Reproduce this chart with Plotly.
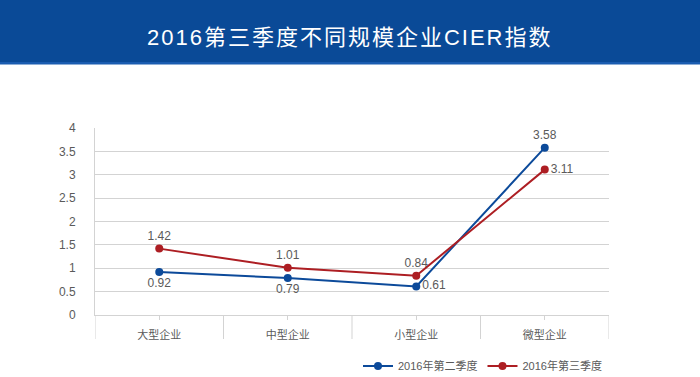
import plotly.graph_objects as go

categories = ["大型企业", "中型企业", "小型企业", "微型企业"]
q2_values = [0.92, 0.79, 0.61, 3.58]
q3_values = [1.42, 1.01, 0.84, 3.11]
q2_name = "2016年第二季度"
q3_name = "2016年第三季度"
title_text = "2016第三季度不同规模企业CIER指数"
y_ticks = [0, 0.5, 1, 1.5, 2, 2.5, 3, 3.5, 4]
y_ticktext = ["0", "0.5", "1", "1.5", "2", "2.5", "3", "3.5", "4"]

W, H = 700, 377
L, R, T, B = 95, 91, 128, 62
plot_h = H - T - B

def py(pix):
    # convert pixel y (from top) to paper coord
    return (H - B - pix) / plot_h

def px(pix):
    return (pix - L) / (W - L - R)

BLUE = "#0c4a9a"
RED = "#ad1e23"
GRID = "#d3d3d3"
TXT = "#5a5a5a"
FONT = "Liberation Sans, Noto Sans CJK SC, sans-serif"

fig = go.Figure()
fig.add_trace(go.Scatter(
    x=categories, y=q2_values, name=q2_name, mode="lines+markers+text",
    line=dict(color=BLUE, width=2), marker=dict(color=BLUE, size=8),
    text=[f"{v:.2f}" for v in q2_values],
    textposition=["bottom center", "bottom center", "middle right", "top center"],
    textfont=dict(color=TXT, size=12, family=FONT),
    cliponaxis=False,
))
fig.add_trace(go.Scatter(
    x=categories, y=q3_values, name=q3_name, mode="lines+markers+text",
    line=dict(color=RED, width=2), marker=dict(color=RED, size=8),
    text=[f"{v:.2f}" for v in q3_values],
    textposition=["top center", "top center", "top center", "middle right"],
    textfont=dict(color=TXT, size=12, family=FONT),
    cliponaxis=False,
))

shapes = []
# title band
shapes.append(dict(type="rect", xref="paper", yref="paper", x0=px(-2), x1=px(W + 2),
                   y0=py(62), y1=py(-2), fillcolor="#0a4a97", line=dict(width=0), layer="below"))
shapes.append(dict(type="rect", xref="paper", yref="paper", x0=px(-2), x1=px(W + 2),
                   y0=py(64.5), y1=py(62), fillcolor="#1a5cb0", line=dict(width=0), layer="below"))
# category dividers below axis
for i in range(len(categories) + 1):
    shapes.append(dict(type="line", xref="x", yref="paper", x0=i - 0.5, x1=i - 0.5,
                       y0=0, y1=py(339), line=dict(color=GRID, width=1)))

fig.update_layout(
    width=W, height=H,
    margin=dict(l=L, r=R, t=T, b=B, autoexpand=False),
    paper_bgcolor="white", plot_bgcolor="white",
    font=dict(family=FONT, color=TXT, size=12),
    shapes=shapes,
    showlegend=True,
    legend=dict(orientation="h", xref="container", yref="container",
                x=358 / W, y=1 - 366 / H, xanchor="left", yanchor="middle",
                font=dict(size=11, color=TXT), itemwidth=30, tracegroupgap=0,
                bgcolor="rgba(0,0,0,0)"),
    annotations=[dict(text=title_text, xref="paper", yref="paper", x=0.5 * (px(0) + px(W)),
                      y=py(37), xanchor="center", yanchor="middle", showarrow=False,
                      font=dict(size=22, color="white", family=FONT))],
    xaxis=dict(
        type="category", range=[-0.5, 3.5], showgrid=False, zeroline=False,
        showline=True, linecolor=GRID, linewidth=1, automargin=False,
        ticks="outside", ticklen=4, tickcolor=GRID,
        tickfont=dict(size=11, color=TXT), ticklabelstandoff=6, fixedrange=True,
    ),
    yaxis=dict(
        range=[0, 4], tickvals=y_ticks, ticktext=y_ticktext,
        showgrid=True, gridcolor=GRID, gridwidth=1, zeroline=False,
        showline=True, linecolor=GRID, linewidth=1, automargin=False,
        ticks="", ticklabelstandoff=16,
        tickfont=dict(size=12, color=TXT), fixedrange=True,
    ),
)

post = """
document.body.style.margin='0';
document.querySelectorAll('.annotation-text').forEach(function(e){e.style.letterSpacing='2px';});
"""
fig.write_html("out.html", post_script=post, config={"displayModeBar": False})
